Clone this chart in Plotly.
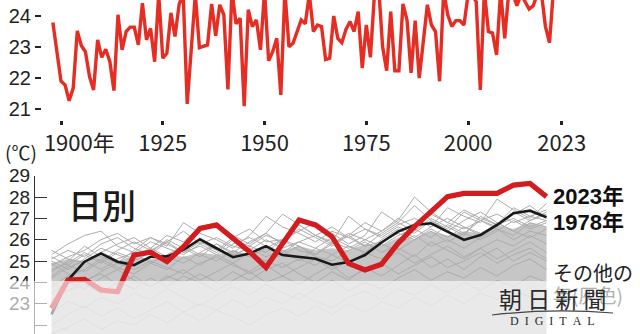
import plotly.graph_objects as go

# ---------------- data ----------------
years = list(range(1898, 2024))
annual = [
    23.79, 22.90, 21.90, 21.78, 21.27, 21.68, 23.52, 23.04, 22.85, 22.05,
    21.62, 23.23, 22.67, 22.93, 22.53, 21.60, 24.04, 22.91, 23.50, 23.64,
    23.64, 23.07, 24.41, 23.23, 23.60, 22.53, 24.70, 22.64, 22.80, 24.10,
    23.34, 24.36, 24.75, 21.17, 22.95, 24.70, 22.98, 23.02, 23.07, 24.39,
    23.36, 24.36, 24.04, 21.64, 24.80, 23.75, 23.93, 21.10, 24.20, 23.66,
    23.87, 22.91, 24.80, 22.56, 22.85, 23.28, 21.46, 24.80, 23.01, 23.12,
    23.50, 23.87, 23.75, 24.70, 23.50, 23.71, 23.66, 22.60, 22.64, 24.00,
    23.28, 23.14, 23.57, 23.82, 23.50, 24.14, 22.32, 23.71, 22.67, 24.70,
    25.00, 23.01, 22.24, 24.14, 22.24, 22.24, 24.39, 23.87, 22.17, 23.85,
    22.00, 23.20, 24.36, 23.71, 23.50, 21.90, 24.80, 24.04, 23.66, 23.85,
    23.85, 23.71, 24.70, 24.70, 24.45, 21.62, 24.80, 23.50, 23.45, 22.75,
    24.80, 23.28, 24.80, 24.70, 24.33, 24.70, 24.45, 24.22, 24.33, 24.70,
    24.75, 23.66, 23.14, 24.90, 24.90, 25.60,
]
year_ticks = [1900, 1925, 1950, 1975, 2000, 2023]
year_labels = ["\u2007\u2007\u20071900年", "1925", "1950", "1975", "2000", "2023"]

days = list(range(1, 32))
red_2023 = [
    22.78, 24.11, 24.14, 23.64, 23.56, 25.28, 25.41, 24.97, 25.67, 26.53,
    26.69, 26.06, 25.44, 24.70, 25.81, 26.92, 26.69, 26.14, 24.89, 24.58,
    24.85, 25.83, 26.61, 27.31, 28.02, 28.17, 28.14, 28.17, 28.56, 28.64,
    28.02,
]
black_1978 = [
    22.50, 24.11, 24.97, 25.36, 24.97, 24.81, 25.20, 25.22, 25.52, 26.02,
    25.60, 25.18, 25.35, 25.70, 25.28, 25.20, 25.11, 24.83, 24.95, 25.28,
    25.87, 26.38, 26.69, 26.77, 26.38, 25.99, 26.22, 26.69, 27.24, 27.36,
    27.05,
]
gray_band_top = [
    24.9, 25.1, 25.0, 25.3, 25.0, 25.2, 25.1, 25.3, 25.2, 25.4,
    25.3, 25.5, 25.3, 25.6, 25.5, 25.7, 25.5, 25.6, 25.5, 25.8,
    25.7, 26.1, 26.0, 26.4, 26.2, 26.4, 26.3, 26.7, 26.5, 26.8,
    26.6,
]
gray_years = [
    [25.3, 25.8, 26.2, 26.4, 25.7, 25.4, 25.9, 25.6, 25.3, 25.8, 26.1, 25.7, 25.5, 26.0, 25.6, 25.9, 26.2, 25.8, 26.3, 26.0, 26.4, 26.9, 28.0, 27.3, 26.8, 26.5, 26.9, 27.2, 26.8, 27.1, 27.4],
    [24.8, 25.2, 25.5, 26.0, 26.3, 25.8, 26.1, 25.7, 26.8, 26.3, 26.0, 25.6, 26.2, 27.1, 26.6, 26.3, 25.9, 26.4, 26.1, 26.5, 26.2, 26.7, 27.0, 26.6, 27.5, 27.1, 26.8, 27.9, 27.4, 27.0, 27.7],
    [25.5, 25.1, 24.9, 25.4, 25.8, 26.1, 25.6, 26.2, 25.9, 26.6, 26.8, 26.2, 25.8, 26.3, 27.2, 26.7, 26.2, 25.9, 27.1, 26.5, 26.1, 26.6, 26.3, 26.9, 26.5, 27.3, 26.9, 26.6, 27.2, 27.6, 27.0],
    [24.5, 25.0, 25.7, 25.2, 24.9, 25.5, 26.1, 25.8, 25.4, 25.9, 25.5, 26.1, 26.5, 25.9, 26.0, 26.4, 26.8, 26.3, 25.8, 26.2, 27.3, 26.8, 26.4, 27.0, 26.6, 26.2, 27.1, 26.7, 27.5, 27.1, 26.9],
    [25.0, 24.6, 25.1, 25.6, 25.3, 25.0, 25.4, 26.0, 25.6, 25.2, 25.8, 25.4, 25.9, 26.3, 25.8, 26.7, 26.2, 26.6, 26.1, 25.7, 26.3, 26.8, 27.6, 26.9, 26.4, 26.9, 27.3, 26.8, 26.4, 26.9, 27.2],
    [24.2, 24.7, 25.0, 24.6, 25.1, 25.4, 24.9, 25.3, 25.7, 25.3, 25.0, 25.5, 25.2, 25.6, 26.0, 25.5, 25.3, 25.8, 26.2, 25.7, 25.9, 26.3, 26.0, 26.5, 26.1, 26.6, 26.2, 26.8, 26.4, 26.1, 26.5],
    [23.8, 24.3, 24.6, 25.1, 24.7, 24.4, 24.9, 24.6, 25.2, 24.8, 25.3, 24.9, 25.4, 25.0, 25.3, 25.7, 25.2, 25.0, 25.5, 25.9, 25.4, 25.8, 26.2, 25.7, 26.0, 25.6, 26.1, 26.5, 26.0, 26.4, 26.2],
    [24.9, 24.4, 24.0, 24.5, 24.9, 24.6, 25.0, 24.7, 24.4, 24.9, 25.2, 24.8, 24.5, 25.0, 24.7, 25.1, 24.8, 25.3, 24.9, 25.4, 25.1, 25.6, 25.2, 25.9, 25.5, 25.1, 25.6, 26.0, 25.7, 26.2, 25.8],
    [23.2, 23.6, 23.9, 23.5, 24.0, 23.7, 24.2, 23.8, 24.3, 24.0, 23.6, 24.1, 24.5, 24.0, 24.3, 23.9, 24.4, 24.8, 24.2, 24.6, 24.9, 24.4, 24.8, 25.2, 24.7, 25.0, 25.4, 24.9, 25.3, 25.6, 25.1],
    [22.6, 23.1, 22.8, 23.3, 23.0, 23.5, 23.2, 23.7, 23.3, 22.9, 23.4, 23.8, 23.4, 23.9, 23.5, 23.2, 23.7, 24.1, 23.6, 24.0, 23.7, 24.2, 24.6, 24.1, 24.5, 24.2, 24.7, 24.3, 24.8, 25.1, 24.6],
    [22.0, 22.5, 22.9, 22.4, 22.8, 22.3, 22.7, 23.1, 22.6, 23.0, 22.7, 23.2, 22.8, 23.3, 23.0, 23.5, 23.1, 22.8, 23.3, 23.6, 23.2, 23.7, 23.4, 23.9, 23.5, 24.0, 23.6, 24.1, 23.8, 24.3, 24.0],
    [21.6, 21.9, 22.3, 21.8, 22.2, 22.0, 22.5, 22.1, 22.6, 22.2, 22.7, 22.4, 22.0, 22.5, 22.8, 22.4, 22.9, 22.5, 23.0, 22.6, 23.1, 22.8, 23.3, 22.9, 23.4, 23.0, 23.5, 23.2, 23.6, 23.3, 23.7],
    [24.0, 23.6, 24.1, 24.4, 23.9, 24.3, 23.8, 24.2, 24.6, 24.1, 24.5, 24.9, 24.4, 24.8, 24.3, 24.7, 25.1, 24.6, 25.0, 24.5, 25.0, 25.4, 24.9, 25.3, 25.7, 25.2, 25.6, 25.1, 25.5, 25.9, 25.4],
    [23.5, 24.0, 23.7, 24.2, 24.6, 24.1, 23.8, 24.3, 24.0, 24.4, 24.0, 24.5, 24.1, 24.6, 24.9, 24.4, 24.0, 24.5, 24.1, 24.7, 24.3, 24.8, 25.3, 24.7, 25.1, 24.6, 25.2, 25.6, 25.0, 25.4, 25.0],
    [25.1, 25.5, 25.2, 25.8, 26.1, 25.6, 25.3, 25.9, 26.4, 25.8, 25.4, 26.0, 25.7, 26.2, 25.9, 26.5, 26.1, 25.7, 26.2, 26.8, 26.4, 27.0, 26.6, 27.2, 26.8, 27.4, 27.0, 26.7, 27.3, 26.9, 27.3],
    [24.6, 24.9, 25.4, 25.0, 25.5, 25.9, 25.5, 25.1, 25.6, 26.0, 25.6, 25.2, 25.7, 25.4, 26.0, 25.7, 25.3, 25.9, 25.6, 26.0, 25.7, 26.2, 26.5, 26.1, 26.7, 26.3, 26.9, 26.5, 26.2, 26.8, 26.6],
    [24.3, 24.8, 24.5, 25.0, 24.6, 25.2, 25.6, 25.2, 24.9, 25.4, 25.8, 25.3, 25.6, 25.2, 25.5, 25.0, 25.6, 25.3, 25.7, 25.4, 25.8, 25.5, 26.0, 26.4, 25.9, 26.3, 26.0, 26.4, 26.9, 26.5, 26.8],
    [25.2, 24.8, 25.3, 24.9, 25.4, 25.1, 25.5, 25.9, 25.4, 25.7, 25.3, 25.8, 26.1, 25.7, 25.4, 25.9, 25.6, 26.1, 25.7, 25.4, 26.0, 26.5, 26.1, 26.6, 27.0, 26.6, 26.3, 26.7, 27.0, 26.6, 26.9],
]
daily_ticks = [22, 23, 24, 25, 26, 27, 28, 29]

# ---------------- figure ----------------
W, H = 640, 334
def px(x):
    return x / W
def py(y):
    return 1 - y / H

NUM = "Liberation Sans, Noto Sans CJK JP"
NARROW = "Liberation Sans Narrow, Noto Sans CJK JP"
JP = "Noto Sans CJK JP"

fig = go.Figure()

fig.add_trace(go.Scatter(
    x=years, y=annual, mode="lines",
    line=dict(color="rgb(229,45,35)", width=3.4),
    xaxis="x", yaxis="y", showlegend=False, hoverinfo="skip"))

fig.add_trace(go.Scatter(
    x=days, y=gray_band_top, mode="lines", line=dict(width=0),
    fill="tozeroy", fillcolor="rgb(198,198,198)",
    xaxis="x2", yaxis="y2", showlegend=False, hoverinfo="skip"))

for g in gray_years:
    fig.add_trace(go.Scatter(
        x=days, y=g, mode="lines",
        line=dict(color="rgb(172,172,172)", width=1),
        xaxis="x2", yaxis="y2", showlegend=False, hoverinfo="skip"))

fig.add_trace(go.Scatter(
    x=days, y=black_1978, mode="lines",
    line=dict(color="rgb(25,25,25)", width=2.6),
    xaxis="x2", yaxis="y2", showlegend=False, hoverinfo="skip"))

fig.add_trace(go.Scatter(
    x=days, y=red_2023, mode="lines",
    line=dict(color="rgb(210,28,32)", width=5.2),
    xaxis="x2", yaxis="y2", showlegend=False, hoverinfo="skip"))

annotations = [
    dict(text="(℃)", x=px(3), y=py(151), xanchor="left", yanchor="middle",
         font=dict(family=NARROW, size=19, color="#222")),
    dict(text="日別", x=px(66), y=py(204), xanchor="left", yanchor="middle",
         font=dict(family=JP, size=34, color="#1a1a1a", weight=500)),
    dict(text="2023年", x=px(551), y=py(196), xanchor="left", yanchor="middle",
         font=dict(family=NUM, size=22, color="#111", weight="bold")),
    dict(text="1978年", x=px(551), y=py(222), xanchor="left", yanchor="middle",
         font=dict(family=NUM, size=22, color="#111", weight="bold")),
    dict(text="その他の", x=px(551), y=py(272), xanchor="left", yanchor="middle",
         font=dict(family=JP, size=20, color="#222")),
    dict(text="年(灰色)", x=px(551), y=py(294), xanchor="left", yanchor="middle",
         font=dict(family=JP, size=19, color="#b0b0b0")),
    dict(text="朝 日 新 聞", x=px(552), y=py(298), xanchor="center", yanchor="middle",
         font=dict(family=JP, size=23, color="#2a2a2a")),
    dict(text="D\u2002I\u2002G\u2002I\u2002T\u2002A\u2002L", x=px(552), y=py(321),
         xanchor="center", yanchor="middle",
         font=dict(family="Liberation Serif", size=12, color="#2a2a2a")),
]
for a in annotations:
    a.update(xref="paper", yref="paper", showarrow=False)

swoosh = "M {:.4f},{:.4f} Q {:.4f},{:.4f} {:.4f},{:.4f}".format(
    px(492), py(315), px(552), py(308), px(613), py(313))

fig.update_layout(
    width=W, height=H,
    margin=dict(l=0, r=0, t=0, b=0, pad=0, autoexpand=False),
    paper_bgcolor="white", plot_bgcolor="white",
    showlegend=False,
    xaxis=dict(domain=[px(42), 1], range=[1895.33, 2042.23], anchor="y",
               automargin=False,
               tickvals=year_ticks, ticktext=year_labels,
               ticks="outside", ticklen=4, tickwidth=3, tickcolor="#222",
               showline=False, showgrid=False, zeroline=False,
               tickfont=dict(family=NARROW, size=22, color="#222")),
    yaxis=dict(domain=[py(119.5), 1], range=[20.67, 24.514], anchor="x",
               automargin=False,
               tickvals=[21, 22, 23, 24],
               ticks="outside", ticklen=6, tickwidth=1.5, tickcolor="#222",
               showline=False, showgrid=False, zeroline=False,
               tickfont=dict(family=NUM, size=20, color="#222")),
    xaxis2=dict(domain=[px(35), px(548)], range=[0, 31.09], anchor="y2",
                automargin=False, visible=False),
    yaxis2=dict(domain=[0, py(175.7)], range=[21.58, 29.0], anchor="x2",
                automargin=False,
                tickvals=daily_ticks,
                showline=True, linecolor="#333", linewidth=1.3,
                ticks="inside", ticklen=12, tickwidth=1.3, tickcolor="#333",
                showgrid=False, zeroline=False,
                tickfont=dict(family=NUM, size=19, color="#222")),
    annotations=annotations,
    shapes=[
        dict(type="rect", xref="paper", yref="paper", x0=0, x1=1, y0=0, y1=py(281),
             fillcolor="rgba(255,255,255,0.62)", line=dict(width=0), layer="above"),
        dict(type="path", xref="paper", yref="paper", path=swoosh,
             line=dict(color="#444", width=1.1), layer="above"),
    ],
)

fig.write_html("out.html")
